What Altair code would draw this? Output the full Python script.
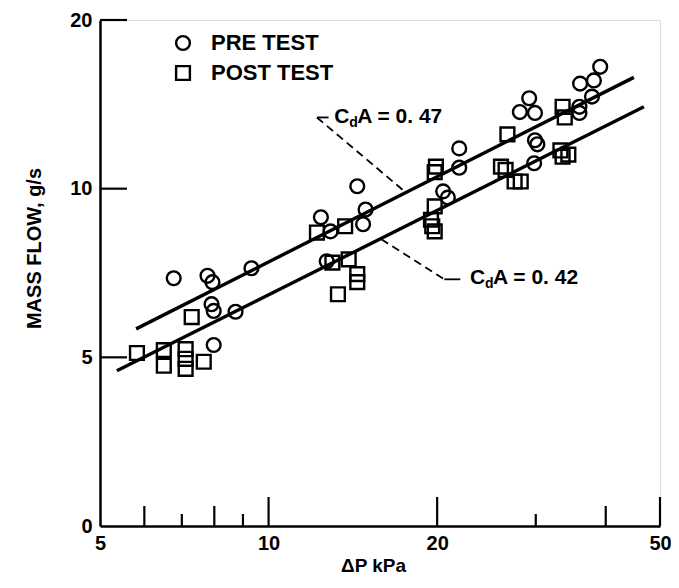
import altair as alt
import pandas as pd

# ---- data ----
pre_dp = [6.77, 7.78, 7.94, 7.91, 7.98, 8.73, 7.98, 9.32, 12.4, 12.9, 14.4, 14.9, 14.75, 12.7,
          21.9, 21.9, 20.5, 20.9, 29.2, 28.1, 29.9, 29.9, 30.2, 29.8, 39.1, 38.1, 36.0, 37.8, 35.9, 35.9]
pre_flow = [6.92, 6.99, 6.81, 6.22, 6.05, 6.03, 5.26, 7.21, 8.89, 8.39, 10.1, 9.18, 8.64, 7.42,
            11.8, 10.9, 9.89, 9.64, 14.5, 13.7, 13.65, 12.2, 12.0, 11.1, 16.5, 15.6, 15.4, 14.6, 14.0, 13.65]
post_dp = [5.82, 6.50, 6.50, 7.11, 7.11, 7.11, 7.66, 7.29, 12.2, 13.7, 13.0, 13.9, 14.4, 14.4, 13.3,
           19.9, 19.8, 19.8, 19.5, 19.6, 19.8, 26.7, 26.0, 26.5, 28.2, 27.5, 33.5, 33.8, 33.2, 33.5, 34.3]
post_flow = [5.09, 5.15, 4.83, 5.17, 4.97, 4.77, 4.91, 5.90, 8.35, 8.57, 7.38, 7.48, 7.04, 6.81, 6.48,
             10.95, 10.7, 9.30, 8.8, 8.57, 8.39, 12.5, 10.95, 10.8, 10.3, 10.3, 14.0, 13.4, 11.7, 11.4, 11.5]

fit_name = ["0.47", "0.47", "0.42", "0.42"]
fit_dp = [5.80, 44.9, 5.36, 46.8]
fit_flow = [5.62, 15.8, 4.73, 14.0]

x_ticks_long = [10, 20, 50]
x_ticks_med = [6, 8, 40]
x_ticks_short = [7, 9, 30]
y_ticks = [5, 10, 20]
x_labels = [5, 10, 20, 50]
y_labels = [2.5, 5, 10, 20]

ann_x = [13.1, 22.9]
ann_y = [13.4, 6.92]
ann_val = ["A = 0. 47", "A = 0. 42"]

solid_x = [12.2, 20.6]
solid_x2 = [12.8, 22.0]
solid_y = [13.4, 6.89]
dash_x = [12.2, 15.9]
dash_y = [13.4, 8.12]
dash_x2 = [17.4, 20.6]
dash_y2 = [9.93, 6.89]

FONT = "'Liberation Sans', Arial, sans-serif"
W, H = 560, 506

points = pd.DataFrame({
    "test": ["PRE TEST"] * len(pre_dp) + ["POST TEST"] * len(post_dp),
    "dp": pre_dp + post_dp,
    "flow": pre_flow + post_flow,
})
fits = pd.DataFrame({"fit": fit_name, "dp": fit_dp, "flow": fit_flow})
ann = pd.DataFrame({"dp": ann_x, "flow": ann_y, "val": ann_val})
solid = pd.DataFrame({"dp": solid_x, "dp2": solid_x2, "flow": solid_y})
dash = pd.DataFrame({"dp": dash_x, "flow": dash_y, "dp2": dash_x2, "flow2": dash_y2})

xs = alt.Scale(type="log", domain=[5, 50], nice=False)
ys = alt.Scale(type="log", domain=[2.5, 20], nice=False)

x_axis = alt.Axis(values=x_labels, labelExpr="format(datum.value, 'd')", ticks=False, grid=False,
                  domainColor="black", domainWidth=2.5, labelFont=FONT, labelFontSize=20,
                  labelFontWeight="bold", labelColor="black", labelPadding=7, labelFlush=False,
                  labelOverlap=False,
                  title="ΔP kPa", titleFont=FONT, titleFontSize=19, titleFontWeight="bold",
                  titleColor="black", titleX=273, titleY=39, titleBaseline="middle")
y_axis = alt.Axis(values=y_labels, labelExpr="datum.value < 3 ? '0' : format(datum.value, 'd')",
                  ticks=False, grid=False, domainColor="black", domainWidth=2.5, labelFont=FONT,
                  labelFontSize=20, labelFontWeight="bold", labelColor="black", labelPadding=8,
                  labelFlush=False, labelOverlap=False,
                  title="MASS FLOW, g/s", titleFont=FONT, titleFontSize=20, titleFontWeight="bold",
                  titleColor="black", titleX=-66, titleY=228, titleBaseline="middle", titleAngle=-90)

pts = alt.Chart(points).mark_point(filled=False, strokeWidth=2.4, color="black", opacity=1, size=190).encode(
    x=alt.X("dp:Q", scale=xs, axis=x_axis),
    y=alt.Y("flow:Q", scale=ys, axis=y_axis),
    shape=alt.Shape("test:N", scale=alt.Scale(domain=["PRE TEST", "POST TEST"], range=["circle", "square"]),
                    legend=alt.Legend(title=None, orient="none", legendX=72, legendY=12, padding=0,
                                      labelFont=FONT, labelFontSize=22, labelFontWeight="bold",
                                      labelColor="black", symbolStrokeColor="black", symbolStrokeWidth=2.4,
                                      symbolSize=190, symbolType="circle", rowPadding=6, labelOffset=17)),
)

lines = alt.Chart(fits).mark_line(color="black", strokeWidth=3.4).encode(
    x=alt.X("dp:Q", scale=xs), y=alt.Y("flow:Q", scale=ys), detail="fit:N")

def xticks(vals, length):
    return alt.Chart(pd.DataFrame({"v": vals})).mark_rule(color="black", strokeWidth=2.2).encode(
        x=alt.X("v:Q", scale=xs), y=alt.value(H), y2=alt.value(H - length))

yt = alt.Chart(pd.DataFrame({"v": y_ticks})).mark_rule(color="black", strokeWidth=2.2).encode(
    y=alt.Y("v:Q", scale=ys), x=alt.value(0), x2=alt.value(27))

solid_l = alt.Chart(solid).mark_rule(color="black", strokeWidth=1.8).encode(
    x=alt.X("dp:Q", scale=xs), x2="dp2:Q", y=alt.Y("flow:Q", scale=ys))
dash_l = alt.Chart(dash).mark_rule(color="black", strokeWidth=1.8, strokeDash=[8, 5]).encode(
    x=alt.X("dp:Q", scale=xs), x2="dp2:Q", y=alt.Y("flow:Q", scale=ys), y2="flow2:Q")

base_t = alt.Chart(ann)
t_c = base_t.mark_text(font=FONT, fontSize=21, fontWeight="bold", align="left", baseline="middle",
                       color="black").encode(x=alt.X("dp:Q", scale=xs), y=alt.Y("flow:Q", scale=ys),
                                             text=alt.value("C"))
t_d = base_t.mark_text(font=FONT, fontSize=14, fontWeight="bold", align="left", baseline="middle",
                       color="black", dx=15, dy=6).encode(x=alt.X("dp:Q", scale=xs),
                                                          y=alt.Y("flow:Q", scale=ys), text=alt.value("d"))
t_a = base_t.mark_text(font=FONT, fontSize=21, fontWeight="bold", align="left", baseline="middle",
                       color="black", dx=23).encode(x=alt.X("dp:Q", scale=xs),
                                                    y=alt.Y("flow:Q", scale=ys), text="val:N")

chart = alt.layer(
    lines, xticks(x_ticks_long, 29), xticks(x_ticks_med, 20), xticks(x_ticks_short, 12), yt,
    solid_l, dash_l, t_c, t_d, t_a, pts
).properties(
    width=W, height=H,
    autosize=alt.AutoSizeParams(type="none"),
    padding={"left": 92, "top": 12, "right": 11, "bottom": 52},
).configure_view(stroke=None).configure(background="white")

chart.save("out.html", embed_options={"renderer": "svg", "actions": False})
